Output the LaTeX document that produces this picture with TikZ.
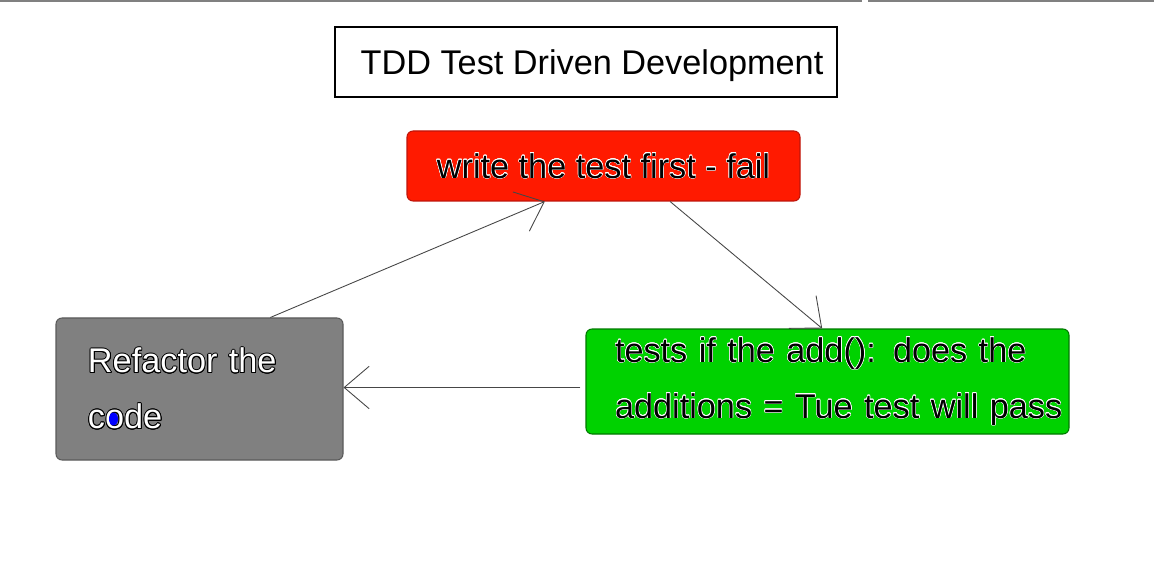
\documentclass[tikz,border=0pt]{standalone}
\usepackage{fontspec}
\setmainfont{Liberation Sans}
\usepackage{contour}
\usetikzlibrary{arrows.meta,calc}

\definecolor{failred}{RGB}{255,26,0}
\definecolor{failedge}{RGB}{190,20,10}
\definecolor{passgreen}{RGB}{0,210,0}
\definecolor{passedge}{RGB}{0,120,0}
\definecolor{refgray}{RGB}{128,128,128}
\definecolor{refedge}{RGB}{90,90,90}
\definecolor{linegray}{RGB}{70,70,70}

\newcommand{\halo}[1]{\contourlength{0.25pt}\contour{white}{#1}}
\newcommand{\rim}[1]{\contourlength{0.5pt}\contour{black}{#1}}

\tikzset{
  bigtext/.style={font=\fontsize{19.5}{31.8}\selectfont},
  stepbox/.style={bigtext, rounded corners=0.12cm, line width=0.6pt, inner sep=0pt},
  flow/.style={-{Straight Barb[length=0.5cm,width=0.85cm]}, draw=linegray, line width=0.5pt},
}

\begin{document}
\begin{tikzpicture}
        \useasboundingbox (0,0) rectangle (23.08,11.22);

        % top border line
        \draw[gray, line width=1.1pt] (0,11.2) -- (17.24,11.2);
        \draw[gray, line width=1.1pt] (17.36,11.2) -- (23.08,11.2);

        \node[draw, bigtext, line width=0.6pt, minimum width=10.04cm, minimum height=1.4cm, inner sep=0pt, text depth=0pt] (title) at (11.72,9.98) {\hspace*{0.24cm}TDD Test Driven Development};

        \node[stepbox, draw=failedge, fill=failred, minimum width=7.86cm, minimum height=1.4cm] (write) at (12.07,7.90) {\halo{write the test first - fail}};

        \node[stepbox, draw=passedge, fill=passgreen, text width=9.1cm, inner xsep=0.28cm, minimum height=2.1cm, align=left] (tests) at (16.55,3.59)
          {\hspace*{0.3cm}\halo{tests if the add(): does the}\\ \hspace*{0.3cm}\halo{additions = Tue test will pass}};

        \node[stepbox, draw=refedge, fill=refgray, text=white, text width=4.46cm, inner xsep=0.64cm, minimum height=2.84cm, align=left] (refactor) at (3.99,3.44)
          {\rim{Refactor the}\\ \rim{code}};

        \fill[blue] ([shift={(1.16,-0.6)}]refactor.west) ellipse (0.09 and 0.13);

        % refactor to write
        \draw[flow] ($(refactor.north west)!0.746!(refactor.north east)$) -- ($(write.south west)!0.351!(write.south east)$);

        % write to tests
        \draw[flow] ($(write.south west)!0.669!(write.south east)$) -- ($(tests.north west)!0.489!(tests.north east)$);

        % tests to refactor
        \draw[flow] ([shift={(-0.1,-0.12)}]tests.west) -- ([yshift=-0.12cm]tests.west -| refactor.east);

\end{tikzpicture}
\end{document}
